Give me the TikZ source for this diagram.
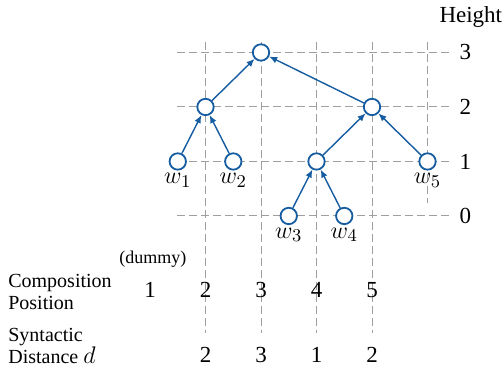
\documentclass[tikz,border=0pt]{standalone}
\usepackage{fontspec}
\setmainfont{Liberation Serif}
\usetikzlibrary{arrows.meta,positioning}
\definecolor{treeblue}{RGB}{22,92,160}

\begin{document}
\begin{tikzpicture}[
  x=27.75pt,
  y=27.25pt,
  font=\normalsize,
  >=Latex,
  guide/.style={
    draw=gray!75,
    line width=0.5pt,
    dash pattern=on 4pt off 2pt
  },
  vertex/.style={
    circle,
    draw=treeblue,
    fill=white,
    line width=0.9pt,
    minimum size=8.2pt,
    inner sep=0pt
  },
  word/.style={
    font=\fontsize{13}{15}\selectfont,
    inner sep=1.2pt
  },
  number/.style={
    font=\fontsize{11.5}{13}\selectfont,
    inner sep=0pt
  },
  rowlabel/.style={
    align=left,
    anchor=west,
    inner sep=0pt,
    font=\fontsize{10}{11}\selectfont
  },
  merge/.style={
    -{Latex[length=4pt,width=3.4pt]},
    draw=treeblue,
    line width=0.7pt
  }
]
\useasboundingbox (-2.703,-2.807) rectangle (6.378,3.963);

% Dashed guide lines
\draw[guide] (0.49,0) -- (5.44,0);
\draw[guide] (0.49,1) -- (5.44,1);
\draw[guide] (0.49,2) -- (5.44,2);
\draw[guide] (0.49,3) -- (5.44,3);
\draw[guide] (1,3.19) -- (1,-2.15);
\draw[guide] (2,3.19) -- (2,-2.15);
\draw[guide] (3,3.19) -- (3,-2.15);
\draw[guide] (4,3.19) -- (4,-2.15);
\draw[guide] (5,3.19) -- (5,0.24);

% Leaves
\node[vertex, label={[word]below:$w_1$}] (w1) at (0.5,1) {};
\node[vertex, label={[word]below:$w_2$}] (w2) at (1.5,1) {};
\node[vertex, label={[word]below:$w_3$}] (w3) at (2.5,0) {};
\node[vertex, label={[word]below:$w_4$}] (w4) at (3.5,0) {};
\node[vertex, label={[word]below:$w_5$}] (w5) at (5,1) {};

% Internal nodes
\node[vertex] (n12) at (1,2) {};
\node[vertex] (n34) at (3,1) {};
\node[vertex] (n345) at (4,2) {};
\node[vertex] (root) at (2,3) {};

% Compositions
\draw[merge] (w1) -- (n12);
\draw[merge] (w2) -- (n12);
\draw[merge] (w3) -- (n34);
\draw[merge] (w4) -- (n34);
\draw[merge] (n34) -- (n345);
\draw[merge] (w5) -- (n345);
\draw[merge] (n12) -- (root);
\draw[merge] (n345) -- (root);

% Height axis
\node[number] (height) at (5.78,3.65) {Height};
\node[number] (h3) at (5.68,3) {3};
\node[number] (h2) at (5.68,2) {2};
\node[number] (h1) at (5.68,1) {1};
\node[number] (h0) at (5.68,0) {0};

% Composition positions
\node[font=\small, inner sep=0pt] (dummy) at (0.05,-0.79) {(dummy)};
\node[rowlabel] (complabel) at (-2.56,-1.39) {Composition\\Position};
\node[number] (pos1) at (0,-1.36) {1};
\node[number] (pos2) at (1,-1.36) {2};
\node[number] (pos3) at (2,-1.36) {3};
\node[number] (pos4) at (3,-1.36) {4};
\node[number] (pos5) at (4,-1.36) {5};

% Syntactic distances
\node[rowlabel] (distlabel) at (-2.56,-2.39) {Syntactic\\Distance \large$d$};
\node[number] (dist2) at (1,-2.55) {2};
\node[number] (dist3) at (2,-2.55) {3};
\node[number] (dist4) at (3,-2.55) {1};
\node[number] (dist5) at (4,-2.55) {2};

\end{tikzpicture}
\end{document}
